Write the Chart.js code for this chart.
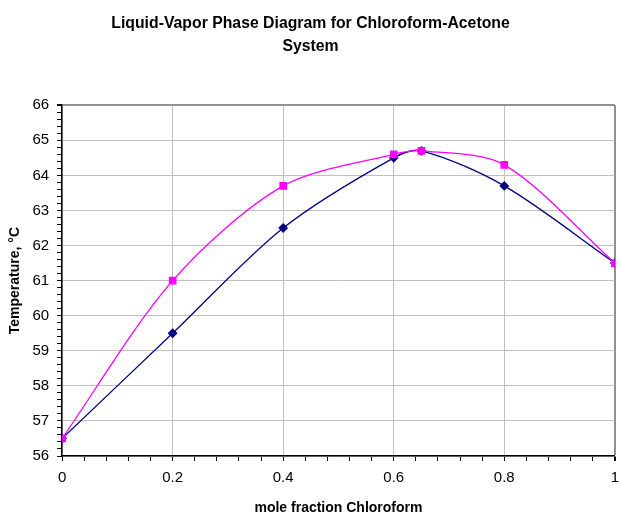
<!DOCTYPE html>
<html>
<head>
<meta charset="utf-8">
<script src="https://cdn.jsdelivr.net/npm/chart.js@4"></script>
<style>
    body { margin: 0; background: #fff; }
    #wrap { width: 621px; height: 514px; }
</style>
</head>
<body>
<div id="wrap"><canvas id="chart" width="621" height="514"></canvas></div>
<script>
// mole fraction chloroform
const xLiquid = [0, 0.2, 0.4, 0.6, 0.65, 0.8, 1];
const tLiquid = [56.5, 59.5, 62.5, 64.5, 64.7, 63.7, 61.5];
const xVapor = [0, 0.2, 0.4, 0.6, 0.65, 0.8, 1];
const tVapor = [56.5, 61.0, 63.7, 64.6, 64.7, 64.3, 61.5];

const titleLines = ["Liquid-Vapor Phase Diagram for Chloroform-Acetone", "System"];
const xTitle = "mole fraction Chloroform";
const yTitle = "Temperature, \u00B0C";

const toPoints = (xs, ys) => xs.map((x, i) => ({ x, y: ys[i] }));
const isMajor = (v, step) => Math.abs(v / step - Math.round(v / step)) < 1e-6;

// grid: light lines on major ticks, darker frame on the far edge
const gridColor = (max, step) => ctx => {
    const v = ctx.tick.value;
    if (Math.abs(v - max) < 1e-6) return "#909090";
    return isMajor(v, step) ? "#c0c0c0" : "transparent";
};
const gridWidth = max => ctx => Math.abs(ctx.tick.value - max) < 1e-6 ? 2 : 1;

Chart.defaults.font.family = "'Liberation Sans', Arial, sans-serif";
Chart.defaults.color = "#000";

new Chart(document.getElementById("chart"), {
    type: "scatter",
    data: {
        datasets: [
            {
                label: "Vapor",
                data: toPoints(xVapor, tVapor),
                showLine: true,
                borderColor: "#ff00ff",
                backgroundColor: "#ff00ff",
                borderWidth: 1.3,
                pointStyle: "rect",
                pointRadius: 4.5,
                tension: 0.3,
            },
            {
                label: "Liquid",
                data: toPoints(xLiquid, tLiquid),
                showLine: true,
                borderColor: "#000080",
                backgroundColor: "#000080",
                borderWidth: 1.3,
                pointStyle: "rectRot",
                pointRadius: 4,
                tension: 0.3,
            },
        ],
    },
    options: {
        responsive: false,
        animation: false,
        layout: { padding: { top: 8, right: 0, left: 0, bottom: 0 } },
        plugins: {
            legend: { display: false },
            tooltip: { enabled: false },
            title: {
                display: true,
                text: titleLines,
                font: { size: 15.8, weight: "bold", lineHeight: 1.46 },
                padding: { top: 4.5, bottom: 46.6 },
            },
        },
        scales: {
            x: {
                type: "linear",
                min: 0,
                max: 1,
                border: { color: "#000", width: 1.5 },
                grid: {
                    color: gridColor(1, 0.2),
                    lineWidth: gridWidth(1),
                    tickColor: "#000",
                    tickLength: 5,
                },
                ticks: {
                    stepSize: 0.04,
                    autoSkip: false,
                    maxRotation: 0,
                    padding: 2,
                    font: { size: 15, lineHeight: 2.0 },
                    callback: v => isMajor(v, 0.2) ? String(Math.round(v * 10) / 10) : "",
                },
                title: {
                    display: true,
                    text: xTitle,
                    font: { size: 14, weight: "bold", lineHeight: 1 },
                    padding: { top: 6, bottom: -1 },
                },
            },
            y: {
                min: 56,
                max: 66,
                border: { color: "#000", width: 1.5 },
                grid: {
                    color: gridColor(66, 1),
                    lineWidth: gridWidth(66),
                    tickColor: "#000",
                    tickLength: 5,
                },
                ticks: {
                    stepSize: 0.2,
                    autoSkip: false,
                    padding: 8,
                    font: { size: 15 },
                    callback: v => isMajor(v, 1) ? String(Math.round(v)) : "",
                },
                title: {
                    display: true,
                    text: yTitle,
                    font: { size: 14, weight: "bold" },
                    padding: { top: 6.6, bottom: 1 },
                },
            },
        },
    },
});
</script>
</body>
</html>
